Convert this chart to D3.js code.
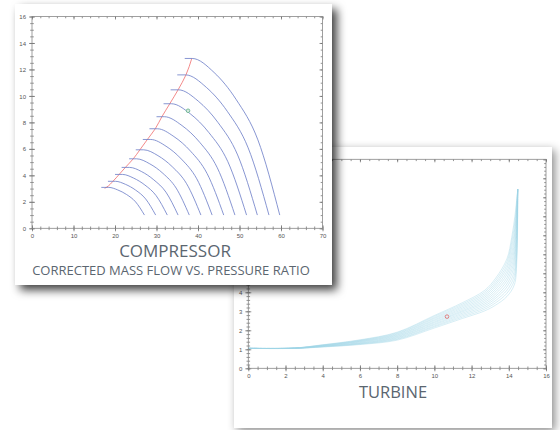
<!DOCTYPE html>
<html>
<head>
<meta charset="utf-8">
<script src="https://cdn.jsdelivr.net/npm/d3@7"></script>
<style>
  body { margin: 0; background: #fff; }
  svg { display: block; }
  .tick text { font-family: "Liberation Sans", Arial, sans-serif; font-size: 6px; fill: #555; }
  .tick line { stroke: #666; stroke-width: 0.7; }
  .title { font-family: "Open Sans", sans-serif; fill: #5b6670; text-anchor: middle; }
</style>
</head>
<body>
<svg id="chart" width="560" height="430"></svg>
<script>
// ---- compressor map: speed lines [corrected mass flow, pressure ratio]
const compSpeedLines = [
  [[16.7, 3.09], [18.5, 3.09], [20.65, 2.90], [22.8, 2.55], [24.95, 2.00], [27.1, 1.0]],
  [[18.3, 3.55], [20.1, 3.55], [22.53, 3.32], [24.95, 2.89], [27.38, 2.22], [29.8, 1.0]],
  [[20.0, 4.07], [21.8, 4.07], [24.5, 3.79], [27.2, 3.27], [29.9, 2.47], [32.6, 1.0]],
  [[21.6, 4.60], [23.5, 4.60], [26.43, 4.28], [29.35, 3.66], [32.28, 2.73], [35.2, 1.0]],
  [[23.4, 5.25], [25.2, 5.25], [28.38, 4.87], [31.55, 4.15], [34.73, 3.04], [37.9, 1.0]],
  [[25.0, 5.93], [26.9, 5.93], [30.35, 5.49], [33.8, 4.65], [37.25, 3.37], [40.7, 1.0]],
  [[26.7, 6.71], [28.6, 6.71], [32.3, 6.20], [36.0, 5.23], [39.7, 3.74], [43.4, 1.0]],
  [[28.3, 7.52], [30.2, 7.52], [34.2, 6.93], [38.2, 5.83], [42.2, 4.13], [46.2, 1.0]],
  [[30.0, 8.43], [31.9, 8.43], [36.15, 7.76], [40.4, 6.50], [44.65, 4.57], [48.9, 1.0]],
  [[31.7, 9.41], [33.6, 9.41], [38.13, 8.65], [42.65, 7.22], [47.18, 5.04], [51.7, 1.0]],
  [[33.4, 10.46], [35.3, 10.46], [40.05, 9.61], [44.8, 8.00], [49.55, 5.54], [54.3, 1.0]],
  [[35.0, 11.59], [37.0, 11.59], [42.03, 10.64], [47.05, 8.84], [52.08, 6.08], [57.1, 1.0]],
  [[36.8, 12.83], [38.6, 12.83], [43.88, 11.77], [49.15, 9.75], [54.43, 6.68], [59.7, 1.0]]
];
const surgeLine = [
  [17.5, 3.02], [17.9, 3.09], [19.5, 3.55], [21.0, 4.07], [22.5, 4.60], [24.4, 5.25], [26.0, 5.93],
  [27.8, 6.71], [29.7, 7.52], [31.3, 8.43], [33.2, 9.41], [35.2, 10.46], [37.1, 11.59], [38.5, 12.83]
];
const compPoint = [37.6, 8.88];

// ---- turbine map: pressure ratio at shared flow knots, then each line's tail
const turbineKnotX = [0, 2.5, 4, 6, 8, 10, 11.5, 12.7];
const turbineKnotY = [
  [1.05, 1.07, 1.24, 1.50, 1.90, 2.78, 3.45, 4.10],
  [1.05, 1.07, 1.23, 1.48, 1.87, 2.73, 3.38, 4.01],
  [1.05, 1.07, 1.22, 1.46, 1.83, 2.67, 3.31, 3.92],
  [1.05, 1.06, 1.21, 1.44, 1.80, 2.62, 3.24, 3.83],
  [1.05, 1.06, 1.20, 1.42, 1.76, 2.56, 3.17, 3.74],
  [1.05, 1.06, 1.19, 1.40, 1.73, 2.51, 3.10, 3.65],
  [1.05, 1.06, 1.18, 1.38, 1.69, 2.45, 3.03, 3.56],
  [1.05, 1.06, 1.17, 1.35, 1.66, 2.40, 2.97, 3.47],
  [1.05, 1.06, 1.16, 1.33, 1.62, 2.34, 2.90, 3.38],
  [1.05, 1.05, 1.15, 1.31, 1.59, 2.29, 2.83, 3.29],
  [1.05, 1.05, 1.14, 1.29, 1.55, 2.23, 2.76, 3.20],
  [1.05, 1.05, 1.13, 1.27, 1.52, 2.18, 2.69, 3.11],
  [1.05, 1.05, 1.12, 1.25, 1.48, 2.12, 2.62, 3.02]
];
const turbineTails = [
  [[13.3, 4.75], [13.9, 5.76], [14.16, 6.90], [14.34, 8.10], [14.48, 9.42]],
  [[13.3, 4.63], [13.9, 5.60], [14.17, 6.69], [14.35, 7.89], [14.48, 9.42]],
  [[13.3, 4.51], [13.9, 5.43], [14.18, 6.48], [14.36, 7.68], [14.48, 9.42]],
  [[13.3, 4.40], [13.9, 5.27], [14.20, 6.28], [14.36, 7.48], [14.48, 9.42]],
  [[13.3, 4.28], [13.9, 5.10], [14.21, 6.07], [14.37, 7.27], [14.48, 9.42]],
  [[13.3, 4.16], [13.9, 4.94], [14.22, 5.86], [14.38, 7.06], [14.48, 9.42]],
  [[13.3, 4.04], [13.9, 4.77], [14.23, 5.65], [14.39, 6.85], [14.48, 9.42]],
  [[13.3, 3.92], [13.9, 4.61], [14.24, 5.44], [14.39, 6.64], [14.48, 9.42]],
  [[13.3, 3.80], [13.9, 4.44], [14.25, 5.23], [14.40, 6.43], [14.48, 9.42]],
  [[13.3, 3.69], [13.9, 4.28], [14.27, 5.03], [14.41, 6.23], [14.48, 9.42]],
  [[13.3, 3.57], [13.9, 4.11], [14.28, 4.82], [14.42, 6.02], [14.48, 9.42]],
  [[13.3, 3.45], [13.9, 3.95], [14.29, 4.61], [14.42, 5.81], [14.48, 9.42]],
  [[13.3, 3.33], [13.9, 3.78], [14.30, 4.40], [14.43, 5.60], [14.48, 9.42]]
];
const turbinePoint = [10.68, 2.72];

const svg = d3.select("#chart");
const defs = svg.append("defs");

function shadow(id, dx, dy, blur, opacity) {
  defs.append("filter")
    .attr("id", id)
    .attr("x", "-20%").attr("y", "-20%")
    .attr("width", "140%").attr("height", "140%")
    .append("feDropShadow")
    .attr("dx", dx).attr("dy", dy)
    .attr("stdDeviation", blur)
    .attr("flood-color", "#000")
    .attr("flood-opacity", opacity);
}
shadow("shadowSoft", 3, 3, 5, 0.45);
shadow("shadowStrong", 5, 5, 5, 0.75);

// frame with ticks on all four sides, labels on left and bottom
// yLabelMax: left labels above it sit under the front card, so skip them
function drawFrame(g, x, y, xMajor, xMinor, yMajor, yMinor, yLabelMax) {
  const [xl, xr] = x.range();
  const [yb, yt] = y.range();

  const sides = [
    { axis: d3.axisBottom, scale: x, pos: `translate(0,${yb})`, major: xMajor, minor: xMinor, cross: "y1", labels: true },
    { axis: d3.axisBottom, scale: x, pos: `translate(0,${yt})`, major: xMajor, minor: xMinor, cross: null, labels: false },
    { axis: d3.axisLeft, scale: y, pos: `translate(${xl},0)`, major: yMajor, minor: yMinor, cross: "x1", labels: true },
    { axis: d3.axisLeft, scale: y, pos: `translate(${xr},0)`, major: yMajor, minor: yMinor, cross: null, labels: false }
  ];

  sides.forEach((s) => {
    const minorG = g.append("g")
      .attr("transform", s.pos)
      .call(s.axis(s.scale).tickValues(s.scale.ticks(s.minor)).tickSize(1.8).tickFormat(""));
    minorG.select(".domain").remove();
    if (s.cross) minorG.selectAll(".tick line").attr(s.cross, s.cross === "y1" ? -1.8 : 1.8);

    const majorG = g.append("g")
      .attr("transform", s.pos)
      .call(s.axis(s.scale).ticks(s.major).tickSize(3));
    majorG.select(".domain").remove();
    if (s.cross) majorG.selectAll(".tick line").attr(s.cross, s.cross === "y1" ? -3 : 3);
    if (!s.labels) {
      majorG.selectAll(".tick text").remove();
    } else if (s.cross === "y1") {
      majorG.selectAll(".tick text").attr("y", 7.5).attr("dy", "0.35em");
    } else {
      majorG.selectAll(".tick text").attr("x", -6).attr("dy", "0.35em");
      if (yLabelMax != null) {
        majorG.selectAll(".tick text").filter((d) => d > yLabelMax).remove();
      }
    }
  });

  g.append("rect")
    .attr("x", xl).attr("y", yt)
    .attr("width", xr - xl).attr("height", yb - yt)
    .attr("fill", "none")
    .attr("stroke", "#888")
    .attr("stroke-width", 0.8);
}

// ---- turbine card (behind)
const turb = svg.append("g");
turb.append("rect")
  .attr("x", 234).attr("y", 147)
  .attr("width", 318).attr("height", 281)
  .attr("fill", "#fff")
  .attr("filter", "url(#shadowSoft)");

const tx = d3.scaleLinear().domain([0, 16]).range([248.3, 546]);
const ty = d3.scaleLinear().domain([0, 11]).range([368.3, 159.3]);

const turbineLines = turbineKnotY.map((ys, i) =>
  turbineKnotX.map((xv, j) => [xv, ys[j]]).concat(turbineTails[i]));

const tLine = d3.line()
  .x((d) => tx(d[0]))
  .y((d) => ty(d[1]))
  .curve(d3.curveCatmullRom.alpha(0.5));

turb.append("g")
  .selectAll("path")
  .data(turbineLines)
  .enter()
  .append("path")
  .attr("d", tLine)
  .attr("fill", "none")
  .attr("stroke", "#9dd5e5")
  .attr("stroke-width", 0.5)
  .attr("stroke-opacity", 0.8);

turb.append("circle")
  .attr("cx", tx(turbinePoint[0]))
  .attr("cy", ty(turbinePoint[1]))
  .attr("r", 1.8)
  .attr("fill", "none")
  .attr("stroke", "#e06a6a")
  .attr("stroke-width", 0.8);

drawFrame(turb, tx, ty, 8, 32, 11, 55, 4);

turb.append("text")
  .attr("class", "title")
  .attr("x", 393).attr("y", 397.5)
  .style("font-size", "16.5px")
  .text("TURBINE");

// ---- compressor card (front)
const comp = svg.append("g");
comp.append("rect")
  .attr("x", 15).attr("y", 4)
  .attr("width", 317).attr("height", 281)
  .attr("fill", "#fff")
  .attr("filter", "url(#shadowStrong)");

const cx = d3.scaleLinear().domain([0, 70]).range([32, 322.5]);
const cy = d3.scaleLinear().domain([0, 16]).range([228.3, 16.5]);

const cLine = d3.line()
  .x((d) => cx(d[0]))
  .y((d) => cy(d[1]))
  .curve(d3.curveMonotoneX);

comp.append("path")
  .datum(surgeLine)
  .attr("d", d3.line().x((d) => cx(d[0])).y((d) => cy(d[1])).curve(d3.curveMonotoneY))
  .attr("fill", "none")
  .attr("stroke", "#f06c6c")
  .attr("stroke-width", 0.8);

comp.append("g")
  .selectAll("path")
  .data(compSpeedLines)
  .enter()
  .append("path")
  .attr("d", cLine)
  .attr("fill", "none")
  .attr("stroke", "#6a7bc6")
  .attr("stroke-width", 0.8);

comp.append("circle")
  .attr("cx", cx(compPoint[0]))
  .attr("cy", cy(compPoint[1]))
  .attr("r", 1.8)
  .attr("fill", "#d6ebdf")
  .attr("stroke", "#5fae86")
  .attr("stroke-width", 0.8);

drawFrame(comp, cx, cy, 7, 35, 8, 32, null);

comp.append("text")
  .attr("class", "title")
  .attr("x", 175).attr("y", 257)
  .style("font-size", "17px")
  .text("COMPRESSOR");

comp.append("text")
  .attr("class", "title")
  .attr("x", 171).attr("y", 275)
  .style("font-size", "13px")
  .text("CORRECTED MASS FLOW VS. PRESSURE RATIO");
</script>
</body>
</html>
